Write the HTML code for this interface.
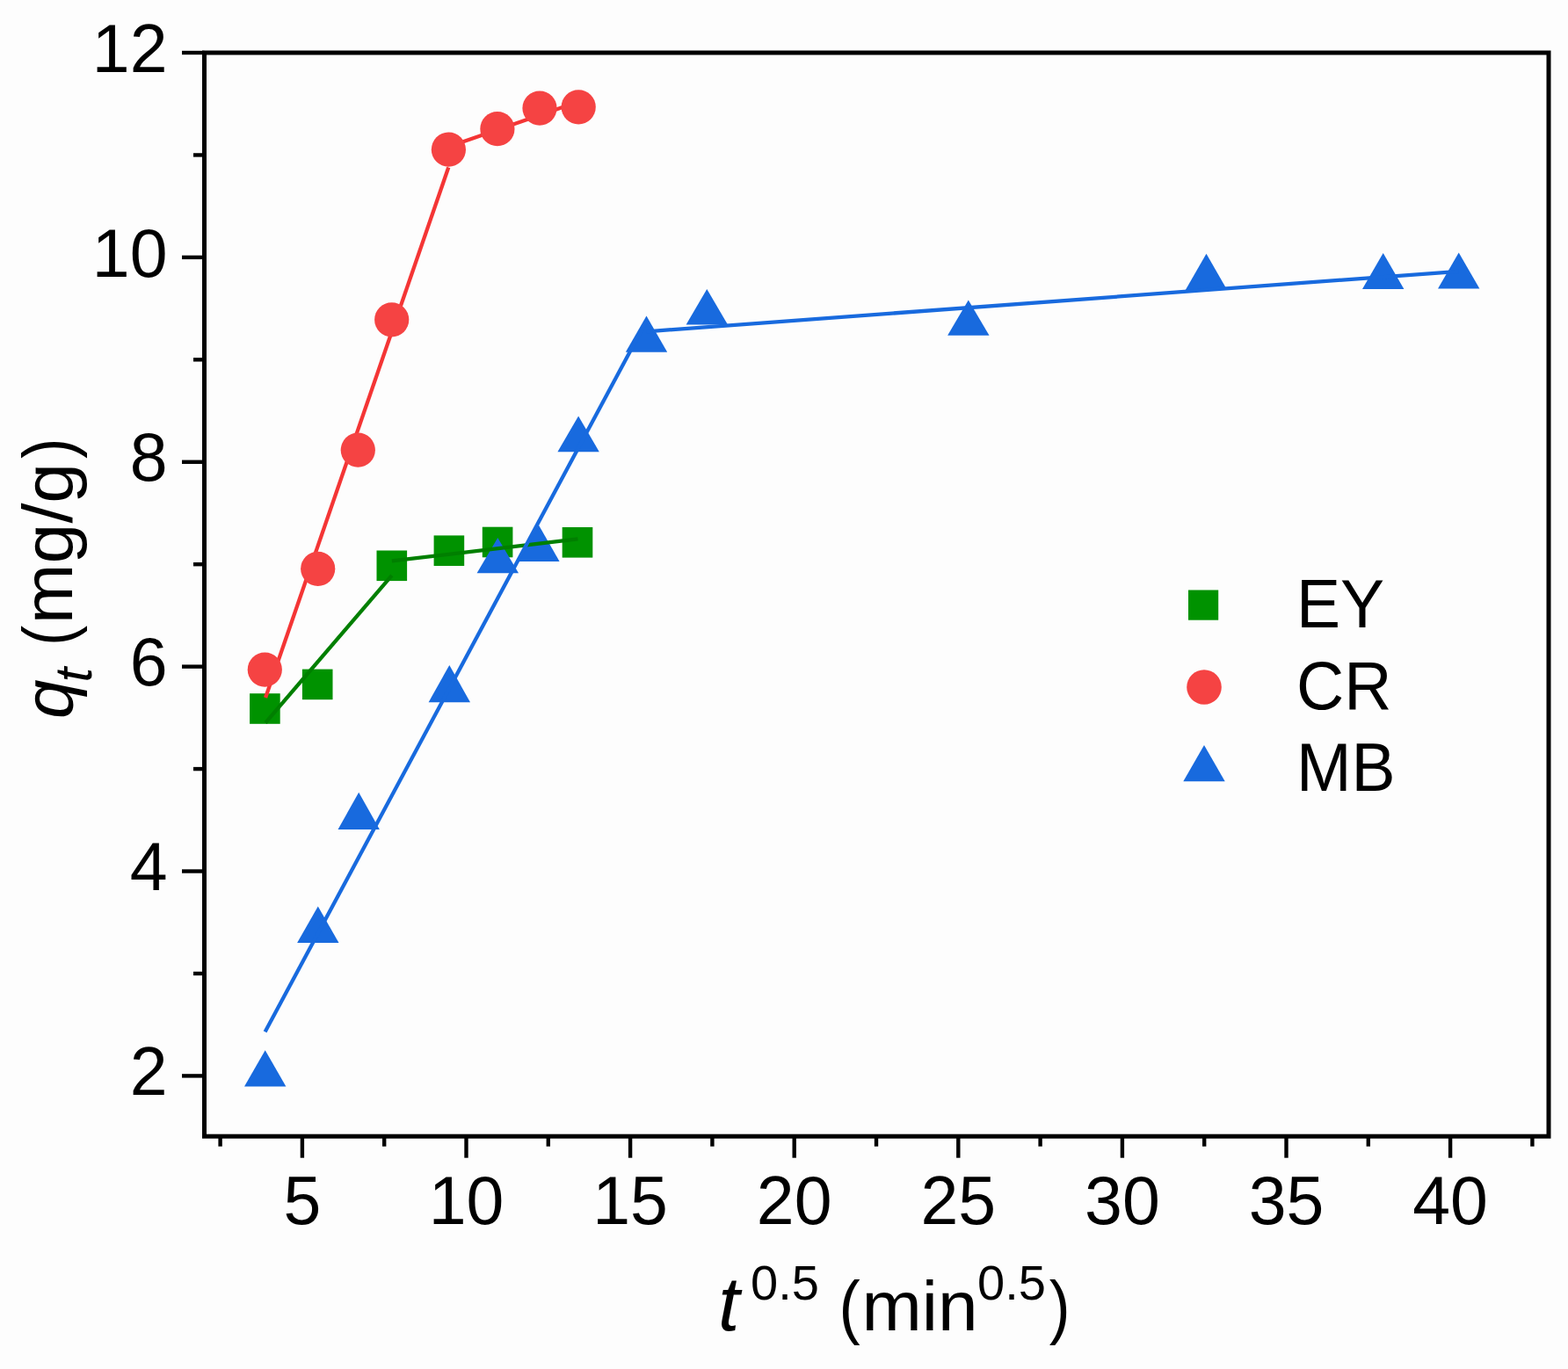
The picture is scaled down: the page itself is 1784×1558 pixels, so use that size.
<!DOCTYPE html><html><head><meta charset="utf-8"><title>q_t vs t^0.5</title>
<style>html,body{margin:0;padding:0;background:#fdfdfd;}svg{display:block;}text{font-family:"Liberation Sans",Arial,sans-serif;fill:#000;}</style></head><body>
<svg width="1784" height="1558" viewBox="0 0 1784 1558">
<rect width="1784" height="1558" fill="#fdfdfd"/>
<g id="ey" fill="#009200">
<rect x="284.10" y="789.20" width="34.60" height="34.60"/>
<rect x="343.90" y="761.60" width="34.60" height="34.60"/>
<rect x="428.50" y="626.50" width="34.60" height="34.60"/>
<rect x="493.60" y="609.40" width="34.60" height="34.60"/>
<rect x="548.80" y="599.70" width="34.60" height="34.60"/>
<rect x="639.70" y="600.00" width="34.60" height="34.60"/>
</g>
<line x1="302.07" y1="794.00" x2="510.28" y2="190.50" stroke="#f43535" stroke-width="4.3" stroke-linecap="butt"/>
<line x1="510.40" y1="167.06" x2="658.20" y2="115.78" stroke="#f43535" stroke-width="4.3" stroke-linecap="butt"/>
<g id="cr" fill="#f54343">
<circle cx="301.30" cy="762.10" r="19.6"/>
<circle cx="361.70" cy="647.30" r="19.6"/>
<circle cx="407.30" cy="512.20" r="19.6"/>
<circle cx="445.70" cy="363.80" r="19.6"/>
<circle cx="510.40" cy="170.20" r="19.6"/>
<circle cx="565.90" cy="146.70" r="19.6"/>
<circle cx="614.00" cy="123.10" r="19.6"/>
<circle cx="658.20" cy="121.80" r="19.6"/>
</g>
<g id="mb" fill="#186ade">
<polygon points="301.70,1195.20 278.00,1236.60 325.40,1236.60"/>
<polygon points="361.80,1031.40 338.10,1073.10 385.50,1073.10"/>
<polygon points="408.20,901.70 384.50,944.00 431.90,944.00"/>
<polygon points="511.30,756.90 487.60,799.30 535.00,799.30"/>
<polygon points="566.30,611.90 542.60,652.30 590.00,652.30"/>
<polygon points="612.90,597.60 589.20,639.00 636.60,639.00"/>
<polygon points="658.10,473.50 634.40,514.20 681.80,514.20"/>
<polygon points="735.50,359.40 711.80,400.70 759.20,400.70"/>
<polygon points="804.30,329.10 780.60,369.60 828.00,369.60"/>
<polygon points="1101.80,341.40 1078.10,381.70 1125.50,381.70"/>
<polygon points="1372.50,288.70 1348.80,330.10 1396.20,330.10"/>
<polygon points="1573.70,287.90 1550.00,329.10 1597.40,329.10"/>
<polygon points="1659.70,287.60 1636.00,328.60 1683.40,328.60"/>
</g>
<line x1="302.00" y1="822.60" x2="445.80" y2="654.90" stroke="#007f00" stroke-width="4.3" stroke-linecap="butt"/>
<line x1="445.80" y1="638.40" x2="657.50" y2="613.40" stroke="#007f00" stroke-width="4.3" stroke-linecap="butt"/>
<line x1="301.60" y1="1174.30" x2="735.50" y2="365.30" stroke="#186ade" stroke-width="4.3" stroke-linecap="butt"/>
<line x1="735.50" y1="377.30" x2="1659.70" y2="308.80" stroke="#186ade" stroke-width="4.3" stroke-linecap="butt"/>
<g stroke="#000" fill="none">
<rect x="232.50" y="60.00" width="1529.50" height="1233.20" stroke-width="5.0"/>
<line x1="207.00" y1="1224.40" x2="232.50" y2="1224.40" stroke-width="4.4"/>
<line x1="220.00" y1="1107.96" x2="232.50" y2="1107.96" stroke-width="4.4"/>
<line x1="207.00" y1="991.52" x2="232.50" y2="991.52" stroke-width="4.4"/>
<line x1="220.00" y1="875.08" x2="232.50" y2="875.08" stroke-width="4.4"/>
<line x1="207.00" y1="758.64" x2="232.50" y2="758.64" stroke-width="4.4"/>
<line x1="220.00" y1="642.20" x2="232.50" y2="642.20" stroke-width="4.4"/>
<line x1="207.00" y1="525.76" x2="232.50" y2="525.76" stroke-width="4.4"/>
<line x1="220.00" y1="409.32" x2="232.50" y2="409.32" stroke-width="4.4"/>
<line x1="207.00" y1="292.88" x2="232.50" y2="292.88" stroke-width="4.4"/>
<line x1="220.00" y1="176.44" x2="232.50" y2="176.44" stroke-width="4.4"/>
<line x1="207.00" y1="60.00" x2="232.50" y2="60.00" stroke-width="4.4"/>
<line x1="250.60" y1="1293.20" x2="250.60" y2="1304.70" stroke-width="4.4"/>
<line x1="343.90" y1="1293.20" x2="343.90" y2="1317.70" stroke-width="4.4"/>
<line x1="437.20" y1="1293.20" x2="437.20" y2="1304.70" stroke-width="4.4"/>
<line x1="530.50" y1="1293.20" x2="530.50" y2="1317.70" stroke-width="4.4"/>
<line x1="623.80" y1="1293.20" x2="623.80" y2="1304.70" stroke-width="4.4"/>
<line x1="717.10" y1="1293.20" x2="717.10" y2="1317.70" stroke-width="4.4"/>
<line x1="810.40" y1="1293.20" x2="810.40" y2="1304.70" stroke-width="4.4"/>
<line x1="903.70" y1="1293.20" x2="903.70" y2="1317.70" stroke-width="4.4"/>
<line x1="997.00" y1="1293.20" x2="997.00" y2="1304.70" stroke-width="4.4"/>
<line x1="1090.30" y1="1293.20" x2="1090.30" y2="1317.70" stroke-width="4.4"/>
<line x1="1183.60" y1="1293.20" x2="1183.60" y2="1304.70" stroke-width="4.4"/>
<line x1="1276.90" y1="1293.20" x2="1276.90" y2="1317.70" stroke-width="4.4"/>
<line x1="1370.20" y1="1293.20" x2="1370.20" y2="1304.70" stroke-width="4.4"/>
<line x1="1463.50" y1="1293.20" x2="1463.50" y2="1317.70" stroke-width="4.4"/>
<line x1="1556.80" y1="1293.20" x2="1556.80" y2="1304.70" stroke-width="4.4"/>
<line x1="1650.10" y1="1293.20" x2="1650.10" y2="1317.70" stroke-width="4.4"/>
<line x1="1743.40" y1="1293.20" x2="1743.40" y2="1304.70" stroke-width="4.4"/>
</g>
<text x="190.5" y="1246.10" font-size="77" text-anchor="end">2</text>
<text x="190.5" y="1013.22" font-size="77" text-anchor="end">4</text>
<text x="190.5" y="780.34" font-size="77" text-anchor="end">6</text>
<text x="190.5" y="547.46" font-size="77" text-anchor="end">8</text>
<text x="190.5" y="314.58" font-size="77" text-anchor="end">10</text>
<text x="190.5" y="81.70" font-size="77" text-anchor="end">12</text>
<text x="343.90" y="1392.5" font-size="77" text-anchor="middle">5</text>
<text x="530.50" y="1392.5" font-size="77" text-anchor="middle">10</text>
<text x="717.10" y="1392.5" font-size="77" text-anchor="middle">15</text>
<text x="903.70" y="1392.5" font-size="77" text-anchor="middle">20</text>
<text x="1090.30" y="1392.5" font-size="77" text-anchor="middle">25</text>
<text x="1276.90" y="1392.5" font-size="77" text-anchor="middle">30</text>
<text x="1463.50" y="1392.5" font-size="77" text-anchor="middle">35</text>
<text x="1650.10" y="1392.5" font-size="77" text-anchor="middle">40</text>
<text x="817" y="1514" font-size="88" font-style="italic">t</text>
<text x="854" y="1479.2" font-size="56">0.5</text>
<text transform="translate(954.55,1514) scale(0.91,1)" font-size="80">(</text>
<text transform="translate(980.4,1514) scale(1.025,1)" x="0" y="0" font-size="80">min</text>
<text x="1112" y="1479.2" font-size="56">0.5</text>
<text transform="translate(1193.7,1514) scale(0.895,1)" font-size="80">)</text>
<g transform="translate(82,0) rotate(-90)">
<text x="-818" y="0" font-size="80" font-style="italic">q</text>
<text x="-776.5" y="22" font-size="60" font-style="italic">t</text>
<text transform="translate(-734.8,0) scale(0.86,1)" font-size="80">(</text>
<text transform="translate(-710.3,0) scale(1.032,1)" font-size="80">mg/g</text>
<text transform="translate(-521.9,0) scale(0.88,1)" font-size="80">)</text>
</g>
<rect x="1352" y="671.5" width="34.2" height="34.2" fill="#009200"/>
<circle cx="1370" cy="782" r="19.8" fill="#f54343"/>
<polygon points="1370,848 1346.3,889.2 1393.7,889.2" fill="#186ade"/>
<g transform="translate(1475,0) scale(0.975,1)">
<text x="0" y="714.5" font-size="77">EY</text>
<text x="0" y="807" font-size="77">CR</text>
<text x="0" y="900.3" font-size="77">MB</text>
</g>
</svg></body></html>
